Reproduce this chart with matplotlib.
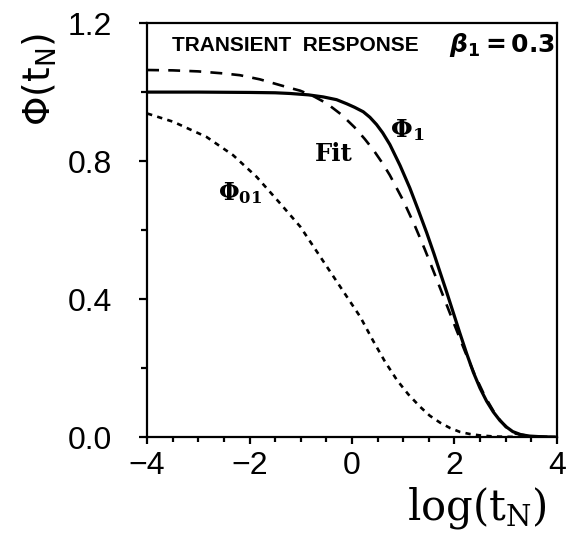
import numpy as np
import matplotlib
matplotlib.use("Agg")
import matplotlib.pyplot as plt
from matplotlib.ticker import MultipleLocator, FormatStrFormatter, FuncFormatter

# values
phi1_x = [-4.0, -3.0, -2.0, -1.5, -1.21, -0.85, -0.56, -0.3, -0.10, 0.05, 0.22, 0.35,
          0.48, 0.6, 0.74, 0.94, 1.13, 1.29, 1.46, 1.6, 1.72, 1.85, 1.98, 2.11, 2.24,
          2.37, 2.5, 2.63, 2.76, 2.89, 3.02, 3.14, 3.3, 3.47, 3.7, 4.0]
phi1_y = [1.0, 1.0, 0.999, 0.998, 0.996, 0.992, 0.986, 0.978, 0.966, 0.956, 0.943, 0.927,
          0.906, 0.882, 0.848, 0.787, 0.722, 0.660, 0.592, 0.532, 0.478, 0.42, 0.36,
          0.30, 0.242, 0.188, 0.142, 0.104, 0.073, 0.048, 0.029, 0.016, 0.007, 0.003,
          0.001, 0.0]

fit_x = [-4.0, -3.5, -3.0, -2.5, -2.19, -1.8, -1.40, -1.21, -1.01, -0.75, -0.49, -0.2,
         0.05, 0.25, 0.42, 0.6, 0.74, 1.0, 1.23, 1.42, 1.6, 1.8, 2.0, 2.2, 2.4, 2.6,
         2.8, 3.0, 3.2, 3.5, 4.0]
fit_y = [1.064, 1.063, 1.06, 1.054, 1.049, 1.037, 1.020, 1.012, 1.004, 0.988, 0.967,
         0.934, 0.898, 0.864, 0.832, 0.793, 0.759, 0.686, 0.612, 0.545, 0.478, 0.402,
         0.326, 0.251, 0.18, 0.117, 0.066, 0.030, 0.010, 0.002, 0.0]

phi01_x = [-4.0, -3.49, -2.84, -2.32, -1.86, -1.40, -1.01, -0.62, -0.23, 0.16, 0.41, 0.64,
           0.88, 1.1, 1.33, 1.52, 1.72, 1.92, 2.11, 2.3, 2.5, 2.75, 3.0, 3.5, 4.0]
phi01_y = [0.938, 0.914, 0.870, 0.817, 0.754, 0.677, 0.610, 0.523, 0.436, 0.349, 0.280,
           0.22, 0.165, 0.124, 0.088, 0.062, 0.042, 0.026, 0.015, 0.009, 0.005, 0.002,
           0.001, 0.0, 0.0]

fig = plt.figure(figsize=(5.77, 5.37), dpi=100)
ax = fig.add_axes([0.255, 0.186, 0.71, 0.771])

ax.plot(phi1_x, phi1_y, color="black", lw=2.3, solid_joinstyle="round")
ax.plot(fit_x, fit_y, color="black", lw=1.9, dashes=(4.5, 3.5))
ax.plot(phi01_x, phi01_y, color="black", lw=1.9, dashes=(2.0, 2.0))

ax.set_xlim(-4, 4)
ax.set_ylim(0, 1.2)
ax.xaxis.set_major_locator(MultipleLocator(2))
ax.xaxis.set_minor_locator(MultipleLocator(0.5))
ax.yaxis.set_major_locator(MultipleLocator(0.4))
ax.yaxis.set_minor_locator(MultipleLocator(0.2))
ax.yaxis.set_major_formatter(FormatStrFormatter("%.1f"))
ax.xaxis.set_major_formatter(FuncFormatter(
    lambda v, p: ("\u2212%d" % abs(v)) if v < 0 else "%d" % v))

for s in ax.spines.values():
    s.set_linewidth(1.6)
ax.tick_params(which="both", direction="out", width=1.6, labelsize=23)
ax.tick_params(axis="y", which="major", length=6, pad=19)
ax.tick_params(axis="y", which="minor", length=4)
ax.tick_params(axis="x", which="major", length=5, pad=5)
ax.tick_params(axis="x", which="minor", length=3.5)
for lab in ax.get_xticklabels() + ax.get_yticklabels():
    lab.set_family("Liberation Sans")

ax.set_ylabel(r"$\Phi(\mathrm{t_N})$", fontsize=27, math_fontfamily="dejavusans")
ax.yaxis.set_label_coords(-0.215, 0.865)
ax.set_xlabel(r"$\mathrm{log(t_N)}$", fontsize=30, math_fontfamily="dejavuserif")
ax.xaxis.set_label_coords(0.805, -0.115)

ax.text(-1.11, 1.136, "TRANSIENT  RESPONSE", family="Liberation Sans",
        fontweight="bold", fontsize=15, ha="center", va="center")
ax.text(3.96, 1.136, r"$\mathbfit{\beta}_\mathbf{1}{\mathbf{=}}\mathbf{0.3}$",
        fontsize=18, ha="right", va="center", math_fontfamily="dejavusans")

ax.text(1.07, 0.89, r"$\mathbf{\Phi_1}$", fontsize=18, ha="center", va="center",
        math_fontfamily="dejavuserif")
ax.text(-0.35, 0.82, "Fit", fontsize=17.5, fontweight="bold", family="DejaVu Serif",
        ha="center", va="center")
ax.text(-2.19, 0.707, r"$\mathbf{\Phi_{01}}$", fontsize=17, ha="center", va="center",
        math_fontfamily="dejavuserif")

fig.savefig("out.png", dpi=100)
